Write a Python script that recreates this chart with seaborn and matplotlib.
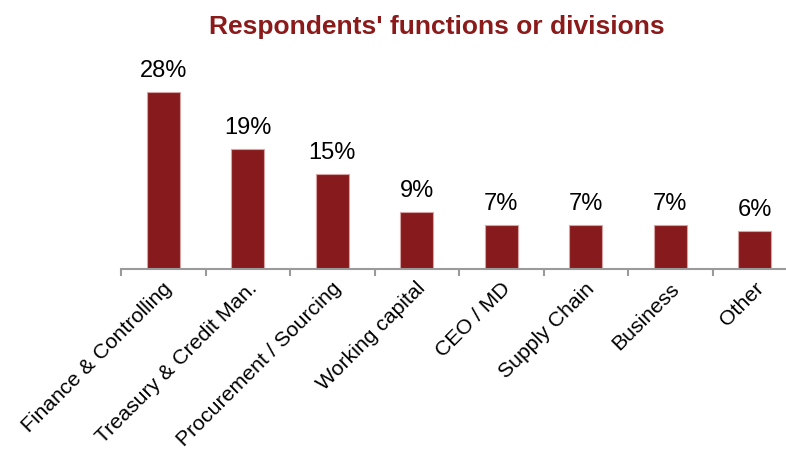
import matplotlib
matplotlib.use("Agg")
import matplotlib.pyplot as plt
import matplotlib.transforms as mtransforms
import seaborn as sns
import pandas as pd

categories = ["Finance & Controlling", "Treasury & Credit Man.", "Procurement / Sourcing",
              "Working capital", "CEO / MD", "Supply Chain", "Business", "Other"]
shares = [28, 19, 15, 9, 7, 7, 7, 6]
value_labels = ["28%", "19%", "15%", "9%", "7%", "7%", "7%", "6%"]
title = "Respondents' functions or divisions"

df = pd.DataFrame({"function": categories, "share": shares})

sns.set_theme(style="white")
plt.rcParams["font.family"] = ["Liberation Sans", "DejaVu Sans"]
narrow = ["Liberation Sans Narrow", "Liberation Sans", "DejaVu Sans"]

bar_color = "#861A1C"
title_color = "#8B1A1A"

fig = plt.figure(figsize=(7.86, 4.53), dpi=100)
ax = fig.add_axes([121 / 786, 1 - 269 / 453, 676 / 786, 219 / 453])

sns.barplot(data=df, x="function", y="share", color=bar_color, width=0.39,
            edgecolor="#d8a3a3", linewidth=0.8, saturation=1, ax=ax)

ax.set_xlim(-0.5, 7.5)
ax.set_ylim(0, 34.65)
ax.set_xlabel("")
ax.set_ylabel("")
ax.set_yticks([])

for side in ["top", "right", "left"]:
    ax.spines[side].set_visible(False)
ax.spines["bottom"].set_color("#9a9a9a")
ax.spines["bottom"].set_linewidth(1.5)

# category boundary ticks
ax.set_xticks([i - 0.5 for i in range(len(categories) + 1)], minor=True)
ax.tick_params(axis="x", which="minor", length=5, width=1.5, color="#9a9a9a",
               direction="out", bottom=True)
ax.tick_params(axis="x", which="major", length=0, pad=12)
ax.set_xticks(range(len(categories)))
ax.set_xticklabels(categories, rotation=45, ha="right", va="center",
                   rotation_mode="anchor", fontsize=15.3, color="black")
shift = mtransforms.ScaledTranslation(6 / 100, 0, fig.dpi_scale_trans)
for lbl in ax.get_xticklabels():
    lbl.set_transform(lbl.get_transform() + shift)

for i, (v, lab) in enumerate(zip(shares, value_labels)):
    ax.annotate(lab, xy=(i, v), xytext=(0, 7), textcoords="offset points",
                ha="center", va="bottom", fontsize=17, family=narrow,
                color="black")

fig.text(437 / 786, 1 - 27 / 453, title, ha="center", va="center",
         fontsize=19, fontweight="bold", color=title_color, family=narrow)

fig.savefig("out.png", dpi=100)
